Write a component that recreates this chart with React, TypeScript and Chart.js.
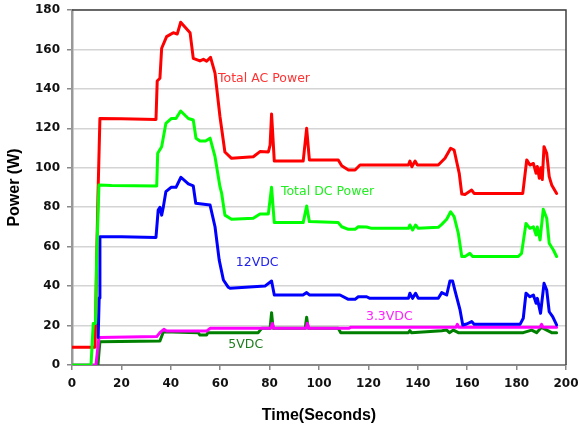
import React, { useEffect, useRef } from "react";
import { Chart, registerables } from "chart.js";

Chart.register(...registerables);

// ---- Data (time in seconds, power in W) ----
const acTimes = [0, 9.3, 9.6, 10.0, 10.5, 11.3, 20, 34, 34.5, 35.6, 36.3, 38.3, 41, 42.6, 44, 47.8, 49.1, 51.8, 53.2, 54.5, 56.1, 57.9, 59.9, 61.9, 64.6, 73.4, 76.1, 79.5, 80.2, 80.8, 81.9, 93.6, 95, 96.1, 107.8, 109.2, 111.9, 114.6, 116.6, 127.4, 136.2, 136.8, 137.6, 138.9, 139.8, 148.3, 151, 153.3, 154.7, 156.8, 157.8, 159.1, 161.8, 162.8, 182.5, 184.1, 185.4, 186.8, 187.9, 188.4, 189.2, 189.8, 190.4, 191.1, 192.2, 193.2, 194.2, 196.2];
const acValues = [9, 9, 25, 55, 85, 125, 124.8, 124.5, 144, 145.4, 160.6, 166.5, 168.5, 167.8, 173.8, 168.5, 155.5, 154.2, 155, 154, 156, 148, 126, 108, 104.8, 105.6, 108.2, 108, 111.5, 127.3, 103.4, 103.4, 120, 104, 104, 101, 98.9, 98.9, 101.4, 101.4, 101.4, 103.4, 100.5, 103.4, 101.4, 101.4, 104.8, 109.9, 109, 97, 86.7, 86.5, 88.7, 87, 87, 104, 101.4, 102.2, 97.2, 100.6, 94.7, 100, 94, 110.7, 107.3, 95.5, 91.3, 87];

const dcTimes = [0, 7.7, 8.6, 9.5, 10.0, 10.9, 16, 34.3, 34.7, 36.3, 38, 40.3, 42.1, 44, 47.1, 49.1, 50.2, 51.8, 54.1, 55.9, 57.9, 59.9, 60.6, 61.9, 64.6, 73.4, 76.1, 79.5, 80.8, 81.9, 93.6, 95, 96.1, 107.8, 109.2, 111.9, 114.6, 115.9, 119.3, 121.3, 136.2, 136.8, 137.9, 139.1, 140.2, 148.3, 149.7, 151.7, 153.3, 154.7, 156.4, 157.8, 159.1, 161.1, 162.2, 180.7, 182, 183.8, 185.4, 186.8, 187.9, 188.4, 189.5, 190.8, 192.2, 193.2, 194.9, 196.2];
const dcValues = [0, 0, 21, 21, 55, 91.3, 91, 90.8, 107.4, 110.7, 122.5, 125, 125, 128.8, 125, 124.2, 115, 113.6, 113.6, 115, 105.6, 90.4, 87, 76, 73.9, 74.4, 76.6, 76.6, 90.1, 72.2, 72.2, 80.6, 72.7, 72.2, 70.1, 68.8, 68.8, 70.1, 70, 69.3, 69.3, 71, 68.5, 71, 69.3, 69.8, 71.3, 73.9, 77.7, 75.2, 66.8, 55, 55, 56.6, 55, 55, 56.6, 71.8, 69.3, 70.1, 65.9, 70, 63.4, 79, 74.4, 61.7, 58.3, 55];

const v12Times = [10.6, 11.0, 11.3, 20, 34, 34.9, 35.6, 36.3, 37, 38, 40.1, 42.1, 44.1, 47.1, 49.1, 50.1, 55.9, 57.9, 59.6, 61.3, 63.3, 64, 78.1, 80.8, 81.9, 93.5, 95, 96.1, 108.5, 111.9, 114.6, 115.9, 119.3, 120.6, 136.2, 136.8, 137.9, 139.1, 140.2, 148.3, 149.7, 151.7, 153, 154.1, 155, 157.1, 158.2, 159.8, 161.8, 162.8, 181.4, 182.7, 183.8, 185.4, 186.8, 187.9, 188.4, 189.7, 191.1, 192.2, 193.2, 194.6, 196.2];
const v12Values = [14, 34, 65, 65, 64.7, 78.6, 80, 76, 80.3, 87.9, 90.1, 90.1, 95.2, 91.8, 90.8, 82, 81.1, 70.1, 53.2, 43.1, 39.4, 38.9, 40, 42.6, 35.5, 35.5, 36.7, 35.5, 35.5, 33.3, 33.3, 34.6, 34.6, 33.8, 33.8, 36.4, 33.8, 36.4, 33.8, 33.8, 36.7, 35.5, 42.6, 42.6, 38, 27.9, 20.3, 20.8, 22, 20.6, 20.6, 23.7, 36.4, 34.6, 35.5, 31.3, 33.8, 26.2, 41.4, 38, 27, 24.5, 20.3];

const v33Times = [0, 9.7, 10.9, 34.3, 35.6, 37.2, 38.3, 54.5, 55.9, 80.5, 81.1, 81.7, 94.7, 95.3, 95.9, 112, 113, 155.5, 156, 156.5, 189.5, 190.1, 190.7, 196.2];
const v33Values = [0, 0, 13.9, 14.4, 16.4, 18.1, 17.2, 17.2, 18.6, 18.6, 21.1, 18.6, 18.6, 21.1, 18.6, 18.6, 19.2, 19.2, 20.6, 19.2, 19.2, 20.6, 19.2, 19.2];

const v5Times = [10.5, 11.3, 35.6, 37, 51.1, 51.8, 54.5, 55, 75.4, 76.8, 80.2, 80.8, 81.4, 94.4, 95, 95.6, 107.8, 108.8, 136.2, 136.8, 137.4, 149.7, 151.7, 152.8, 154.4, 156.4, 182.7, 186.1, 188.1, 190.1, 192.2, 194.2, 196.2];
const v5Values = [0, 11.8, 12.2, 16.9, 16.4, 15.2, 15.2, 16.4, 16.4, 18.6, 18.6, 26.5, 18.6, 18.6, 24.2, 18.6, 18.6, 16.4, 16.4, 17.4, 16.4, 17.4, 17.7, 16.4, 17.7, 16.4, 16.4, 17.7, 16.4, 19.1, 17.7, 16.4, 16.4];

const seriesNames = ["Total DC Power", "Total AC Power", "12VDC", "3.3VDC", "5VDC"];
const seriesColors = ["#00FF00", "#FF0000", "#0000FF", "#FF00FF", "#008000"];
const labelColors = ["#22EE22", "#FF3333", "#2222EE", "#FF22FF", "#1E7E1E"];
// label anchor (left edge, vertical middle) in data units
const labelTimes = [84.6, 59.1, 66.3, 119.0, 63.3];
const labelPowers = [87.6, 145.0, 51.6, 24.5, 10.1];

const xMin = 0, xMax = 200, xStep = 20;
const yMin = 0, yMax = 180, yStep = 20;

const toPoints = (ts: number[], vs: number[]) => ts.map((t, i) => ({ x: t, y: vs[i] }));

const overlay = {
  id: "overlay",
  afterDatasetsDraw(chart: any) {
    const { ctx, scales } = chart;
    ctx.save();
    ctx.font = '12.5px "DejaVu Sans"';
    ctx.textBaseline = "middle";
    ctx.textAlign = "left";
    seriesNames.forEach((name, i) => {
      ctx.fillStyle = labelColors[i];
      ctx.fillText(name, scales.x.getPixelForValue(labelTimes[i]), scales.y.getPixelForValue(labelPowers[i]));
    });
    ctx.restore();
  },
  afterDraw(chart: any) {
    const { ctx, scales } = chart;
    const l = scales.x.getPixelForValue(xMin);
    const r = scales.x.getPixelForValue(xMax);
    const t = scales.y.getPixelForValue(yMax);
    const b = scales.y.getPixelForValue(yMin);
    ctx.save();
    ctx.strokeStyle = "#404040";
    ctx.lineWidth = 1.5;
    ctx.beginPath();
    ctx.moveTo(l, t);
    ctx.lineTo(r, t);
    ctx.lineTo(r, b);
    ctx.stroke();
    ctx.restore();
  },
};

export default function App() {
  const ref = useRef<HTMLCanvasElement>(null);
  useEffect(() => {
    if (!ref.current) return;
    const seriesData = [
      toPoints(dcTimes, dcValues),
      toPoints(acTimes, acValues),
      toPoints(v12Times, v12Values),
      toPoints(v33Times, v33Values),
      toPoints(v5Times, v5Values),
    ];
    const tickFont = { family: "DejaVu Sans", size: 12, weight: "bold" as const };
    const titleFont = { family: "Liberation Sans", size: 16, weight: "bold" as const };
    const chart = new Chart(ref.current, {
      type: "line",
      data: {
        datasets: seriesData.map((d, i) => ({
          label: seriesNames[i],
          data: d,
          borderColor: seriesColors[i],
          backgroundColor: seriesColors[i],
          borderWidth: 3,
          pointRadius: 0,
          tension: 0,
          fill: false,
          borderJoinStyle: "round" as const,
          borderCapStyle: "round" as const,
        })),
      },
      options: {
        responsive: false,
        animation: false,
        devicePixelRatio: 1,
        layout: { padding: 0 },
        plugins: { legend: { display: false }, tooltip: { enabled: false } },
        scales: {
          x: {
            type: "linear",
            min: xMin,
            max: xMax,
            ticks: { stepSize: xStep, font: tickFont, color: "#111", padding: 7, maxRotation: 0 },
            grid: { drawOnChartArea: false, tickLength: 5, color: "#888", lineWidth: 1.5 },
            border: { color: "#888", width: 2 },
            title: { display: true, text: "Time(Seconds)", font: titleFont, color: "#000", padding: { top: 0, bottom: 2 } },
            afterFit: (s: any) => { s.height = 62; s.paddingLeft = 0; s.paddingRight = 13; },
          },
          y: {
            type: "linear",
            min: yMin,
            max: yMax,
            ticks: { stepSize: yStep, font: tickFont, color: "#111", padding: 7 },
            grid: { color: "#d4d4d4", lineWidth: 1.5, tickLength: 5, tickColor: "#888" },
            border: { color: "#999", width: 2.5 },
            title: { display: true, text: "Power (W)", font: titleFont, color: "#000", padding: { top: 5, bottom: 0 } },
            afterFit: (s: any) => { s.width = 72; s.paddingTop = 10; s.paddingBottom = 0; },
          },
        },
      },
      plugins: [overlay],
    });
    return () => chart.destroy();
  }, []);
  return (
    <div style={{ position: "fixed", left: 0, top: 0, width: 579, height: 427, background: "#fff" }}>
      <canvas ref={ref} width={579} height={427} />
    </div>
  );
}
